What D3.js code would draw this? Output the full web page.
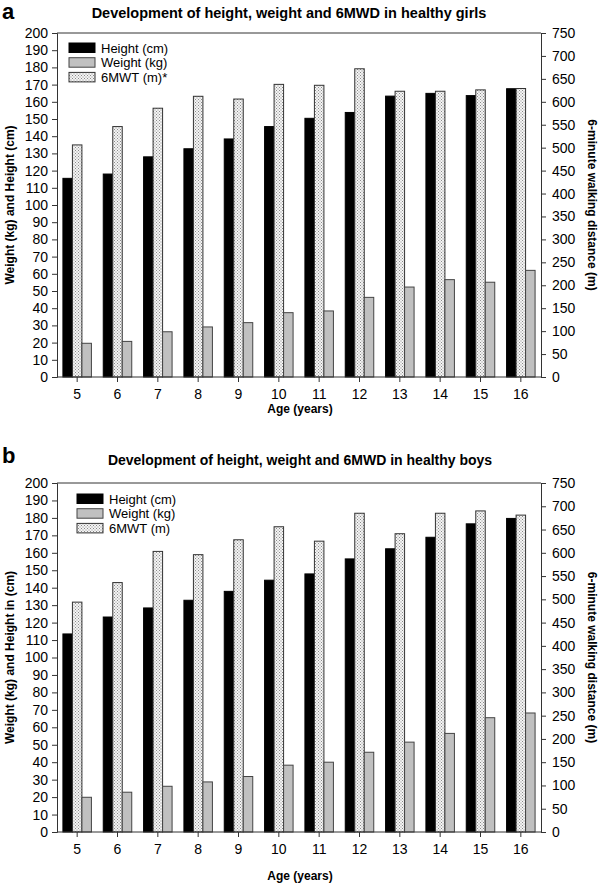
<!DOCTYPE html>
<html><head><meta charset="utf-8">
<script src="https://cdn.jsdelivr.net/npm/d3@7"></script>
<style>body{margin:0;background:#fff}svg{display:block}text{font-family:"Liberation Sans",Arial,sans-serif}</style>
</head><body><svg id="c" width="600" height="884"></svg>
<script>
const ages = [5,6,7,8,9,10,11,12,13,14,15,16];
const girlsHeight = [115.5,118,128,132.7,138.4,145.6,150.4,153.8,163.3,164.9,163.6,167.6];
const girlsWeight = [19.6,20.7,26.3,29.1,31.6,37.4,38.4,46.3,52.3,56.6,55.1,62];
const girls6MWT = [506,546,586,612,606,638,636,672,623,623,626,629];
const boysHeight = [113.5,123.2,128.4,132.8,137.9,144.3,147.9,156.5,162.3,168.9,176.6,179.7];
const boysWeight = [19.9,22.8,26.2,28.7,31.8,38.3,40.0,45.7,51.5,56.5,65.5,68.2];
const boys6MWT = [494,536,603,596,628,656,625,685,641,685,690,681];
const leftTicks = d3.range(0,201,10);
const rightTicks = d3.range(0,751,50);

const svg = d3.select("#c");
const defs = svg.append("defs");
const pat = defs.append("pattern").attr("id","dots").attr("patternUnits","userSpaceOnUse").attr("width",3).attr("height",3);
pat.append("rect").attr("width",3).attr("height",3).attr("fill","#f4f4f4");
pat.append("rect").attr("x",0).attr("y",0).attr("width",1).attr("height",1).attr("fill","#8a8a8a");
pat.append("rect").attr("x",1.5).attr("y",1.5).attr("width",1).attr("height",1).attr("fill","#8a8a8a");

function panel(o){
  const g = svg.append("g");
  const x = d3.scaleBand().domain(ages).range([57,541]).paddingInner(0).paddingOuter(0);
  const yL = d3.scaleLinear().domain([0,200]).range([o.bottom,o.top]);
  const yR = d3.scaleLinear().domain([0,750]).range([o.bottom,o.top]);
  const bw = 9.5;
  const cx = a => x(a) + x.bandwidth()/2;
  g.selectAll(".h").data(ages).join("rect")
    .attr("x",(a)=>cx(a)-1.5*bw).attr("width",bw)
    .attr("y",(a,i)=>yL(o.height[i])).attr("height",(a,i)=>yL(0)-yL(o.height[i]))
    .attr("fill","#000").attr("stroke","#000").attr("stroke-width",1);
  g.selectAll(".m").data(ages).join("rect")
    .attr("x",(a)=>cx(a)-0.5*bw).attr("width",bw)
    .attr("y",(a,i)=>yR(o.mwt[i])).attr("height",(a,i)=>yR(0)-yR(o.mwt[i]))
    .attr("fill","url(#dots)").attr("stroke","#333").attr("stroke-width",1);
  g.selectAll(".w").data(ages).join("rect")
    .attr("x",(a)=>cx(a)+0.5*bw).attr("width",bw)
    .attr("y",(a,i)=>yL(o.weight[i])).attr("height",(a,i)=>yL(0)-yL(o.weight[i]))
    .attr("fill","#c0c0c0").attr("stroke","#444").attr("stroke-width",1);
  g.append("line").attr("x1",57).attr("x2",541).attr("y1",o.top).attr("y2",o.top).attr("stroke","#333");
  const axL = g.append("g").attr("transform","translate(57,0)")
    .call(d3.axisLeft(yL).tickValues(leftTicks).tickSize(5).tickPadding(4));
  const axR = g.append("g").attr("transform","translate(541,0)")
    .call(d3.axisRight(yR).tickValues(rightTicks).tickSize(5).tickPadding(6));
  const axB = g.append("g").attr("transform",`translate(0,${o.bottom})`)
    .call(d3.axisBottom(x).tickSize(5).tickPadding(7).tickSizeOuter(0));
  [axL,axR,axB].forEach(a=>{
    a.select(".domain").attr("stroke","#333");
    a.selectAll(".tick line").attr("stroke","#333");
    a.selectAll("text").attr("font-size",14).attr("fill","#000").attr("font-family",'"Liberation Sans",Arial,sans-serif');
  });
  axB.select(".domain").attr("d",`M57,0H541`);
  g.append("text").attr("x",2).attr("y",o.letterY).attr("font-size",22).attr("font-weight","bold").text(o.letter);
  g.append("text").attr("x",o.titleX).attr("y",o.titleY).attr("font-size",o.titleSize).attr("font-weight","bold").attr("text-anchor","middle").text(o.title);
  g.append("text").attr("x",300).attr("y",o.ageY).attr("font-size",12).attr("font-weight","bold").attr("text-anchor","middle").text("Age (years)");
  const mid = (o.top+o.bottom)/2;
  g.append("text").attr("transform",`translate(14,${mid}) rotate(-90)`).attr("font-size",12).attr("font-weight","bold").attr("text-anchor","middle").text(o.leftTitle);
  g.append("text").attr("transform",`translate(588,${mid}) rotate(90)`).attr("font-size",12).attr("font-weight","bold").attr("text-anchor","middle").text("6-minute walking distance (m)");
  const leg = g.append("g");
  o.legend.forEach((l,i)=>{
    const yy = o.legY + i*14.7;
    leg.append("rect").attr("x",o.legX).attr("y",yy).attr("width",26).attr("height",9.5)
      .attr("fill",l.fill).attr("stroke",l.stroke).attr("stroke-width",1);
    leg.append("text").attr("x",o.legX+32).attr("y",yy+9.5).attr("font-size",13).text(l.label);
  });
}

panel({top:33,bottom:377,height:girlsHeight,weight:girlsWeight,mwt:girls6MWT,
  letter:"a",letterY:19,title:"Development of height, weight and 6MWD in healthy girls",titleX:289,titleY:18,titleSize:14.5,ageY:413,
  leftTitle:"Weight (kg) and Height (cm)",legX:69,legY:43,
  legend:[{label:"Height (cm)",fill:"#000",stroke:"#000"},{label:"Weight (kg)",fill:"#c0c0c0",stroke:"#444"},{label:"6MWT (m)*",fill:"url(#dots)",stroke:"#333"}]});
panel({top:483,bottom:832,height:boysHeight,weight:boysWeight,mwt:boys6MWT,
  letter:"b",letterY:463,title:"Development of height, weight and 6MWD in healthy boys",titleX:300,titleY:465,titleSize:14,ageY:880,
  leftTitle:"Weight (kg) and Height in (cm)",legX:77,legY:494,
  legend:[{label:"Height (cm)",fill:"#000",stroke:"#000"},{label:"Weight (kg)",fill:"#c0c0c0",stroke:"#444"},{label:"6MWT (m)",fill:"url(#dots)",stroke:"#333"}]});
</script></body></html>
